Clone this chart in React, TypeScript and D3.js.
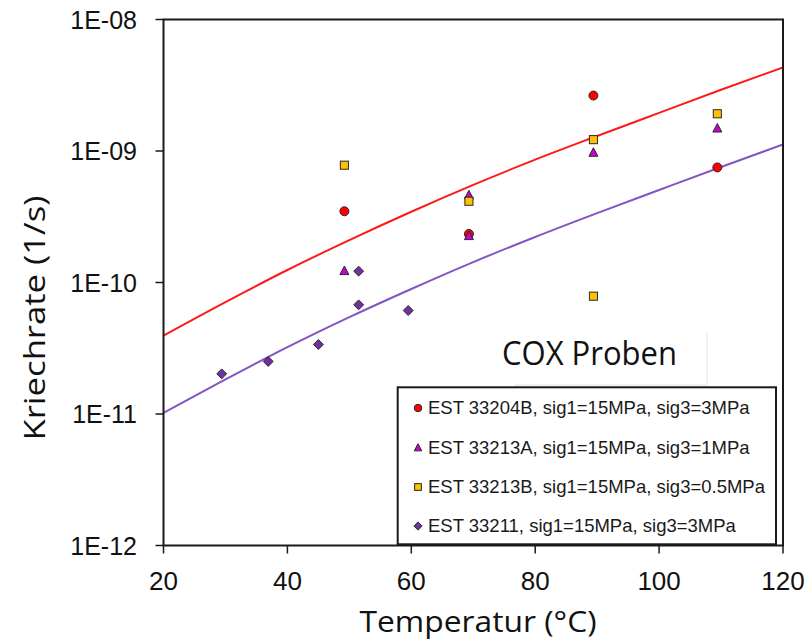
import React from "react";
import * as d3 from "d3";

// ---- data ----
const xTicks = [20, 40, 60, 80, 100, 120];
const yTickValues = [1e-12, 1e-11, 1e-10, 1e-9, 1e-8];
const yTickLabels = ["1E-12", "1E-11", "1E-10", "1E-09", "1E-08"];

const fitTemps = [20, 30, 40, 50, 60, 70, 80, 90, 100, 110, 120];
const fitRed = [3.95e-11, 7.1e-11, 1.245e-10, 2.1e-10, 3.45e-10, 5.52e-10, 8.6e-10, 1.3e-9, 1.95e-9, 2.92e-9, 4.32e-9];
const fitPurple = [1.02e-11, 1.83e-11, 3.22e-11, 5.45e-11, 8.93e-11, 1.43e-10, 2.22e-10, 3.37e-10, 5.05e-10, 7.55e-10, 1.12e-9];

const s33204B_T = [49.2, 69.3, 89.4, 109.4];
const s33204B_V = [3.48e-10, 2.34e-10, 2.64e-9, 7.5e-10];

const s33213A_T = [49.2, 69.3, 69.3, 89.4, 109.4];
const s33213A_V = [1.22e-10, 4.59e-10, 2.25e-10, 9.68e-10, 1.48e-9];

const s33213B_T = [49.2, 69.3, 89.4, 89.4, 109.4];
const s33213B_V = [7.8e-10, 4.15e-10, 1.22e-9, 7.87e-11, 1.92e-9];

const s33211_T = [29.4, 36.9, 45.0, 51.5, 51.5, 59.5];
const s33211_V = [2.02e-11, 2.51e-11, 3.38e-11, 6.76e-11, 1.22e-10, 6.12e-11];

const legendLabels = [
  "EST 33204B, sig1=15MPa, sig3=3MPa",
  "EST 33213A, sig1=15MPa, sig3=1MPa",
  "EST 33213B, sig1=15MPa, sig3=0.5MPa",
  "EST 33211, sig1=15MPa, sig3=3MPa",
];

const W = 806;
const H = 641;
const L = 163.5, R = 783, T = 19.5, B = 545.5;

const x = d3.scaleLinear().domain([20, 120]).range([L, R]);
const y = d3.scaleLog().domain([1e-12, 1e-8]).range([B, T]);

const sans = "'Liberation Sans', Arial, sans-serif";
const title = "'Open Sans', 'Noto Sans', sans-serif";
const stroke = "#2a2a2a";

type Shape = "circle" | "triangle" | "square" | "diamond";
const shapes: Shape[] = ["circle", "triangle", "square", "diamond"];
const fills = ["#ff0000", "#cc00cc", "#ffc000", "#7030a0"];

function Marker({ shape, cx, cy, s, fill }: { shape: Shape; cx: number; cy: number; s: number; fill: string }) {
  if (shape === "circle") return <circle cx={cx} cy={cy} r={s * 0.5} fill={fill} stroke={stroke} strokeWidth={1} />;
  if (shape === "square")
    return <rect x={cx - s * 0.45} y={cy - s * 0.45} width={s * 0.9} height={s * 0.9} fill={fill} stroke={stroke} strokeWidth={1} />;
  if (shape === "triangle") {
    const h = s * 0.95;
    const p = `${cx},${cy - h * 0.6} ${cx + s * 0.5},${cy + h * 0.4} ${cx - s * 0.5},${cy + h * 0.4}`;
    return <polygon points={p} fill={fill} stroke={stroke} strokeWidth={1} />;
  }
  const d = s * 0.55;
  const p = `${cx},${cy - d} ${cx + d},${cy} ${cx},${cy + d} ${cx - d},${cy}`;
  return <polygon points={p} fill={fill} stroke={stroke} strokeWidth={1} />;
}

export default function App() {
  const line = d3
    .line<[number, number]>()
    .x((d) => x(d[0]))
    .y((d) => y(d[1]))
    .curve(d3.curveMonotoneX);
  const redPath = line(fitTemps.map((t, i) => [t, fitRed[i]] as [number, number])) || "";
  const purplePath = line(fitTemps.map((t, i) => [t, fitPurple[i]] as [number, number])) || "";

  const series = [
    { t: s33204B_T, v: s33204B_V },
    { t: s33213A_T, v: s33213A_V },
    { t: s33213B_T, v: s33213B_V },
    { t: s33211_T, v: s33211_V },
  ];

  const legendY = [408, 448, 487, 526];

  return (
    <svg width={W} height={H} style={{ position: "absolute", left: 0, top: 0, background: "#fff" }}>
      <rect x={0} y={0} width={W} height={H} fill="#fff" />
      <defs>
        <clipPath id="plot">
          <rect x={L} y={T} width={R - L} height={B - T} />
        </clipPath>
      </defs>

      {/* fit lines */}
      <g clipPath="url(#plot)">
        <path d={redPath} fill="none" stroke="#ff1a1a" strokeWidth={2} />
        <path d={purplePath} fill="none" stroke="#8454c4" strokeWidth={2} />
      </g>

      {/* points */}
      {series.map((s, si) =>
        s.t.map((t, i) => (
          <Marker key={`${si}-${i}`} shape={shapes[si]} cx={x(t)} cy={y(s.v[i])} s={9} fill={fills[si]} />
        ))
      )}

      {/* COX Proben text box shadow */}
      <line x1={515} y1={385} x2={707} y2={385} stroke="#e2e2e2" strokeWidth={1} />
      <line x1={707} y1={333} x2={707} y2={385} stroke="#e2e2e2" strokeWidth={1} />
      <text x={502} y={365} fontFamily={title} fontSize={32} fill="#111" textLength={175} lengthAdjust="spacingAndGlyphs">
        COX Proben
      </text>

      {/* legend */}
      <rect x={397.7} y={387.3} width={776 - 397.7} height={544.3 - 387.3} fill="#fff" stroke="#1a1a1a" strokeWidth={2} />
      {legendLabels.map((lab, i) => (
        <g key={lab}>
          <Marker shape={shapes[i]} cx={418} cy={legendY[i]} s={7.5} fill={fills[i]} />
          <text x={428} y={legendY[i]} dy="0.35em" fontFamily={sans} fontSize={18.5} fill="#1a1a1a">
            {lab}
          </text>
        </g>
      ))}

      {/* frame */}
      <rect x={L} y={T} width={R - L} height={B - T} fill="none" stroke="#1a1a1a" strokeWidth={2} />

      {/* y axis ticks */}
      {yTickValues.map((v, i) => (
        <g key={v}>
          <line x1={L - 8} x2={L} y1={y(v)} y2={y(v)} stroke="#1a1a1a" strokeWidth={1.5} />
          <text x={137} y={y(v)} dy="0.36em" textAnchor="end" fontFamily={sans} fontSize={25} fill="#111">
            {yTickLabels[i]}
          </text>
        </g>
      ))}

      {/* x axis ticks */}
      {xTicks.map((t) => (
        <g key={t}>
          <line x1={x(t)} x2={x(t)} y1={B} y2={B + 8} stroke="#1a1a1a" strokeWidth={1.5} />
          <text x={x(t)} y={590} textAnchor="middle" fontFamily={sans} fontSize={26} fill="#111">
            {t}
          </text>
        </g>
      ))}

      {/* axis titles */}
      <text x={478} y={632} textAnchor="middle" fontFamily={title} fontSize={30} fill="#111" textLength={237} lengthAdjust="spacingAndGlyphs">
        Temperatur (°C)
      </text>
      <text
        transform={`translate(45, 318) rotate(-90)`}
        textAnchor="middle"
        fontFamily={title}
        fontSize={30}
        fill="#111"
        textLength={245}
        lengthAdjust="spacingAndGlyphs"
      >
        Kriechrate (1/s)
      </text>
    </svg>
  );
}
